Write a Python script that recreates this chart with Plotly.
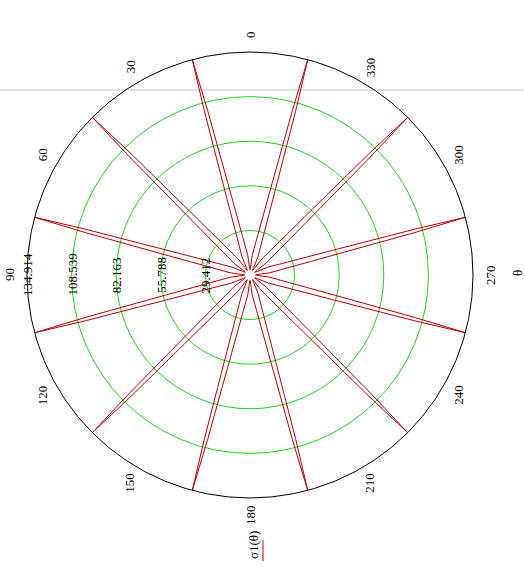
import math
import plotly.graph_objects as go

# ---- data ----
R_MIN = 3.0365          # radial axis starts at the curve minimum (centre)
R_MAX = 134.914         # outer circle
radial_ticks = [29.412, 55.788, 82.163, 108.539, 134.914]
angle_ticks = [0, 30, 60, 90, 120, 150, 180, 210, 240, 270, 300, 330]

# petal (lobe) directions of sigma1(theta), degrees
petal_centers = [15, 45, 75, 105, 135, 165, 195, 225, 255, 285, 315, 345]
# one half of a petal: angular offset from petal axis (deg) and sigma1 value
half_offset = [15.0, 11.0, 8.6, 4.0, 1.79, 1.05, 0.556, 0.0]
half_r = [6.2, 7.9, 14.86, 26.69, 50.35, 72.23, 103.57, 134.914]

theta, r = [], []
for c in petal_centers:
    for off, rv in zip(half_offset, half_r):
        theta.append(c - off)
        r.append(rv)
    for off, rv in zip(half_offset[-2::-1], half_r[-2::-1]):
        theta.append(c + off)
        r.append(rv)

fig = go.Figure()
fig.add_trace(go.Scatterpolar(
    r=r, theta=theta, mode="lines",
    line=dict(color="#b80000", width=1),
    hoverinfo="skip", showlegend=False,
))

W, H = 524, 579
L, T, S = 27, 52, 446          # plot square: left, top, size
FONT = dict(family="Liberation Serif", size=13, color="black")

fig.update_layout(
    width=W, height=H,
    margin=dict(l=L, r=W - L - S, t=T, b=H - T - S, pad=0),
    paper_bgcolor="white",
    showlegend=False,
    polar=dict(
        bgcolor="rgba(0,0,0,0)",
        domain=dict(x=[0, 1], y=[0, 1]),
        radialaxis=dict(
            range=[R_MIN, R_MAX], tickvals=radial_ticks[:-1],
            showticklabels=False, ticks="", showline=False,
            showgrid=True, gridcolor="#1ed21e", gridwidth=1,
        ),
        angularaxis=dict(
            rotation=90, direction="counterclockwise",
            showgrid=False, showticklabels=False, ticks="",
            showline=True, linecolor="black", linewidth=1,
        ),
    ),
)

def px_to_paper(x, y):
    return (x - L) / S, (T + S - y) / S

ann = []
# angular labels
rad_lab = 240 / S
for t in angle_ticks:
    phi = math.radians(90 + t)
    ann.append(dict(x=0.5 + rad_lab * math.cos(phi), y=0.5 + rad_lab * math.sin(phi),
                    text=str(t)))
# radial labels along theta = 90 (pointing left)
for v in radial_ticks:
    frac = (v - R_MIN) / (R_MAX - R_MIN)
    ann.append(dict(x=0.5 - 0.5 * frac, y=0.5, text=f"{v:g}"))
# axis titles
x, y = px_to_paper(517, 273)
ann.append(dict(x=x, y=y, text="θ"))
x, y = px_to_paper(253, 545)
ann.append(dict(x=x, y=y, text="σ1(θ)"))

for a in ann:
    a.update(xref="paper", yref="paper", showarrow=False, textangle=-90,
             xanchor="center", yanchor="middle", font=FONT)
fig.update_layout(annotations=ann)

# legend swatch and stray gray line
x0, y0 = px_to_paper(263, 540)
x1, y1 = px_to_paper(263, 561)
gx0, gy = px_to_paper(0, 90)
gx1, _ = px_to_paper(W, 90)
fig.update_layout(shapes=[
    dict(type="line", xref="paper", yref="paper", x0=x0, y0=y0, x1=x1, y1=y1,
         line=dict(color="#cc0000", width=1)),
    dict(type="line", xref="paper", yref="paper", x0=gx0, y0=gy, x1=gx1, y1=gy,
         line=dict(color="#c0c0c0", width=1), layer="below"),
])

fig.write_html("out.html", config={"displayModeBar": False},
               post_script="document.body.style.margin='0';document.body.style.overflow='hidden';")
